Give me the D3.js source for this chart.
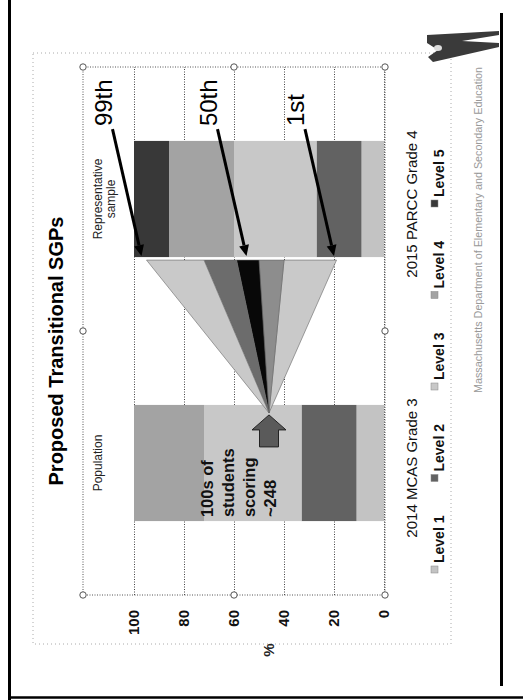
<!DOCTYPE html>
<html><head><meta charset="utf-8">
<script src="https://cdn.jsdelivr.net/npm/d3@7"></script>
<style>body{margin:0;background:#fff}svg{display:block;font-family:"Liberation Sans",Arial,sans-serif}</style>
</head><body>
<svg id="c" width="523" height="700"></svg>
<script>
// ---- data ----
const categories = ["2014 MCAS Grade 3", "2015 PARCC Grade 4"];
const levels = ["Level 1", "Level 2", "Level 3", "Level 4", "Level 5"];
const mcasValues = [11, 22, 39, 28, 0];
const parccValues = [9, 18, 33, 26, 14];
const yTicks = [0, 20, 40, 60, 80, 100];
const barNotes = [["Population"], ["Representative", "sample"]];
const fanStart = 46;
const fanEnds = [19, 40, 50, 59, 72, 95];
const percentileLabels = ["99th", "50th", "1st"];
const percentileValues = [97, 55, 20];
const noteLines = ["100s of", "students", "scoring", "~248"];
const titleText = "Proposed Transitional SGPs";
const footerText = "Massachusetts Department of Elementary and Secondary Education";

// ---- styles ----
const levelColors = ["#c3c3c3", "#626262", "#c8c8c8", "#a3a3a3", "#383838"];
const fanColors = ["#c9c9c9", "#8d8d8d", "#080808", "#6c6c6c", "#c9c9c9"];

const svg = d3.select("#c");

// scan frame decorations (image coordinates)
svg.append("rect").attr("x", 0).attr("y", 0).attr("width", 523).attr("height", 700).attr("fill", "#fff");
svg.append("line").attr("x1", 9.5).attr("x2", 9.5).attr("y1", 0).attr("y2", 700).attr("stroke", "#000").attr("stroke-width", 3);
svg.append("line").attr("x1", 8).attr("x2", 523).attr("y1", 697.5).attr("y2", 697.5).attr("stroke", "#000").attr("stroke-width", 2.5);
svg.append("line").attr("x1", 501.5).attr("x2", 501.5).attr("y1", 13).attr("y2", 686).attr("stroke", "#000").attr("stroke-width", 3);
svg.append("rect").attr("x", 33).attr("y", 53).attr("width", 418).attr("height", 591)
  .attr("fill", "none").attr("stroke", "#aaa").attr("stroke-width", 1).attr("stroke-dasharray", "1,3");
// logo
svg.append("path").attr("d", "M427,35 L499,31 L499,35 L462,41 L499,43 L499,47 L433,62 L428,57 L438,50 L427,43 Z").attr("fill", "#3a3a3a");
svg.append("ellipse").attr("cx", 438).attr("cy", 48).attr("rx", 4).attr("ry", 3).attr("fill", "#ddd");

// rotated slide group: slide coords (u right, v down), 700 x 523
const g = svg.append("g").attr("transform", "translate(0,700) rotate(-90)");

const x = d3.scaleBand().domain(categories).range([105, 633]).paddingInner(0.56).paddingOuter(0.28);
const y = d3.scaleLinear().domain([0, 100]).range([384, 134]);
const bw = x.bandwidth();

// chart box
const boxTop = 83, boxBottom = 385, boxL = 105, boxR = 633;
g.append("rect").attr("x", boxL).attr("y", boxTop).attr("width", boxR - boxL).attr("height", boxBottom - boxTop)
  .attr("fill", "none").attr("stroke", "#555").attr("stroke-dasharray", "1,1.5");

// gridlines
const grid = g.append("g").attr("transform", `translate(${boxL},0)`)
  .call(d3.axisLeft(y).tickValues(yTicks).tickSize(-(boxR - boxL)).tickFormat(""));
grid.select(".domain").remove();
grid.selectAll("line").attr("stroke", "#444").attr("stroke-dasharray", "1,1.5");

// tick labels
const ax = g.append("g").attr("transform", "translate(93,0)")
  .call(d3.axisLeft(y).tickValues(yTicks).tickSize(0).tickPadding(3));
ax.select(".domain").remove();
ax.selectAll("text").attr("font-size", 15).attr("font-weight", "bold").attr("fill", "#111")
  .attr("font-family", "Liberation Sans, Arial, sans-serif");
g.append("text").attr("x", 50).attr("y", y(46)).attr("dy", "0.35em").attr("text-anchor", "middle")
  .attr("font-size", 15).attr("font-weight", "bold").attr("fill", "#222").text("%");

// stacked bars
const valuesByCat = [mcasValues, parccValues];
const rows = categories.map((c, i) => {
  const r = { cat: c };
  levels.forEach((l, j) => r[l] = valuesByCat[i][j]);
  return r;
});
const series = d3.stack().keys(levels)(rows);
g.append("g").selectAll("g").data(series).join("g")
  .attr("fill", (d, i) => levelColors[i])
  .selectAll("rect").data(d => d).join("rect")
  .attr("x", d => x(d.data.cat)).attr("width", bw)
  .attr("y", d => y(d[1])).attr("height", d => y(d[0]) - y(d[1]));

// fan
const apexU = x(categories[0]) + bw - 8, apexV = y(fanStart);
const endU = x(categories[1]) - 3;
g.append("g").selectAll("path").data(d3.range(fanEnds.length - 1)).join("path")
  .attr("d", i => `M${apexU},${apexV} L${endU},${y(fanEnds[i])} L${endU},${y(fanEnds[i + 1])} Z`)
  .attr("fill", i => fanColors[i]).attr("stroke", "#666").attr("stroke-width", 0.6);

// block arrow pointing to apex
const tipU = apexU - 2;
const ba = [[tipU, apexV], [tipU - 15, apexV - 17], [tipU - 15, apexV - 9.5], [tipU - 32, apexV - 9.5],
            [tipU - 32, apexV + 9.5], [tipU - 15, apexV + 9.5], [tipU - 15, apexV + 17]];
g.append("path").attr("d", "M" + ba.map(p => p.join(",")).join("L") + "Z")
  .attr("fill", "#5a5a5a").attr("stroke", "#222").attr("stroke-width", 1);

// note text inside MCAS bar
g.append("g").selectAll("text").data(noteLines).join("text")
  .attr("x", x(categories[0]) + 4).attr("y", (d, i) => 213 + i * 21)
  .attr("font-size", 16.5).attr("font-weight", "bold").attr("fill", "#111").text(d => d);

// bar notes above bars
barNotes.forEach((lines, ci) => {
  g.append("g").selectAll("text").data(lines).join("text")
    .attr("x", x(categories[ci]) + bw / 2).attr("y", (d, i) => 102 + i * 13)
    .attr("text-anchor", "middle").attr("font-size", 12).attr("fill", "#222").text(d => d);
});

// percentile labels + arrows
const tU = x(categories[1]) + 1;
percentileLabels.forEach((lab, i) => {
  const tv = y(percentileValues[i]);
  const sU = tU + 127, sV = tv - 29;
  g.append("text").attr("x", sU + 3).attr("y", sV - 1).attr("font-size", 24).attr("fill", "#000").text(lab);
  const ang = Math.atan2(tv - sV, tU - sU);
  const hl = 11, hw = 5;
  const bx = tU - hl * Math.cos(ang), by = tv - hl * Math.sin(ang);
  g.append("line").attr("x1", sU).attr("y1", sV).attr("x2", bx).attr("y2", by)
    .attr("stroke", "#000").attr("stroke-width", 3);
  const px = -Math.sin(ang) * hw, py = Math.cos(ang) * hw;
  g.append("path").attr("d", `M${tU},${tv} L${bx + px},${by + py} L${bx - px},${by - py} Z`).attr("fill", "#000");
});

// category labels
g.append("g").selectAll("text").data(categories).join("text")
  .attr("x", d => x(d) + bw / 2 - 5).attr("y", 417).attr("text-anchor", "middle")
  .attr("font-size", 15).attr("fill", "#111").text(d => d);

// legend
const leg = g.append("g").selectAll("g").data(levels).join("g")
  .attr("transform", (d, i) => `translate(${127 + i * 91.5},0)`);
leg.append("rect").attr("x", 0).attr("y", 431).attr("width", 7).attr("height", 7)
  .attr("fill", (d, i) => levelColors[i]).attr("stroke", "#888").attr("stroke-width", 0.5);
leg.append("text").attr("x", 10).attr("y", 444).attr("font-size", 14).attr("font-weight", "bold")
  .attr("fill", "#111").text(d => d);

// title
g.append("text").attr("x", 349).attr("y", 63).attr("text-anchor", "middle")
  .attr("font-size", 20).attr("font-weight", "bold").attr("fill", "#000").text(titleText);

// footer
g.append("text").attr("x", 307).attr("y", 482).attr("font-size", 10).attr("fill", "#999")
  .attr("textLength", 326).attr("lengthAdjust", "spacingAndGlyphs").text(footerText);

// selection handles
const handles = [[boxL, boxTop], [(boxL + boxR) / 2, boxTop], [boxR, boxTop], [boxL, (boxTop + boxBottom) / 2],
                 [boxR, (boxTop + boxBottom) / 2], [boxL, boxBottom], [(boxL + boxR) / 2, boxBottom], [boxR, boxBottom]];
g.append("g").selectAll("circle").data(handles).join("circle")
  .attr("cx", d => d[0]).attr("cy", d => d[1]).attr("r", 3.2)
  .attr("fill", "#fff").attr("stroke", "#555").attr("stroke-width", 1);
</script>
</body></html>
